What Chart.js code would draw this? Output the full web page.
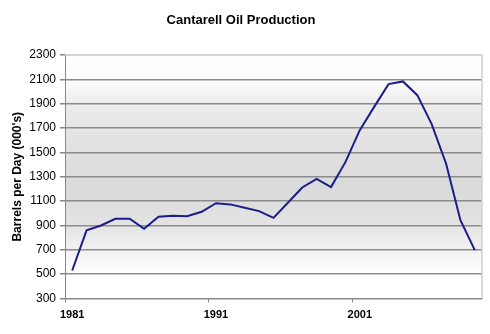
<!DOCTYPE html>
<html>
<head>
<meta charset="utf-8">
<script src="https://cdn.jsdelivr.net/npm/chart.js@4"></script>
<style>
  html, body { margin: 0; padding: 0; background: #fff; }
  #wrap { width: 490px; height: 334px; }
</style>
</head>
<body>
<div id="wrap"><canvas id="myChart" width="490" height="334"></canvas></div>
<script>
// years on the category axis
let years = [
    '1981', '1982', '1983', '1984', '1985', '1986', '1987', '1988', '1989', '1990',
    '1991', '1992', '1993', '1994', '1995', '1996', '1997', '1998', '1999', '2000',
    '2001', '2002', '2003', '2004', '2005', '2006', '2007', '2008', '2009'
];
// barrels per day, thousands
let production = [
    530, 860, 900, 955, 955, 872, 971, 979, 976, 1012,
    1083, 1073, 1045, 1018, 962, 1086, 1212, 1283, 1215, 1420,
    1683, 1874, 2061, 2083, 1970, 1732, 1409, 943, 697
];
let shownYears = ['1981', '1991', '2001'];

let fontName = '"Liberation Sans", Arial, sans-serif';

// gray gradient behind the plot and a light frame on top/right
let plotBackground = {
    id: 'plotBackground',
    beforeDraw(chart) {
        let a = chart.chartArea;
        let c = chart.ctx;
        let g = c.createLinearGradient(0, a.top, 0, a.bottom);
        g.addColorStop(0, '#ffffff');
        g.addColorStop(0.1, '#fdfdfd');
        g.addColorStop(0.2, '#ececec');
        g.addColorStop(0.4, '#e0e0e0');
        g.addColorStop(0.55, '#dadada');
        g.addColorStop(0.7, '#e4e4e4');
        g.addColorStop(0.82, '#f4f4f4');
        g.addColorStop(0.9, '#ffffff');
        g.addColorStop(1, '#ffffff');
        c.save();
        c.fillStyle = g;
        c.fillRect(a.left, a.top, a.right - a.left, a.bottom - a.top);
        c.restore();
    },
    beforeDatasetsDraw(chart) {
        let a = chart.chartArea;
        let c = chart.ctx;
        c.save();
        c.strokeStyle = '#cfcfcf';
        c.lineWidth = 1.5;
        c.beginPath();
        c.moveTo(a.left, a.top);
        c.lineTo(a.right, a.top);
        c.lineTo(a.right, a.bottom);
        c.stroke();
        c.restore();
    }
};

let ctx = document.getElementById('myChart').getContext('2d');

let chart = new Chart(ctx, {
    type: 'line',
    data: {
        labels: years,
        datasets: [{
            label: 'Cantarell',
            data: production,
            borderColor: '#1c1c8c',
            borderWidth: 2,
            pointRadius: 0,
            tension: 0,
            fill: false
        }]
    },
    options: {
        responsive: false,
        animation: false,
        layout: { padding: { left: 0, right: 8, top: 0, bottom: 0 } },
        plugins: {
            legend: { display: false },
            tooltip: { enabled: false },
            title: {
                display: true,
                text: 'Cantarell Oil Production',
                color: '#000',
                font: { family: fontName, size: 13, weight: 'bold' },
                padding: { top: 13, bottom: 26.4 }
            }
        },
        scales: {
            x: {
                offset: true,
                afterFit(scale) { scale.height = 35.5; },
                grid: {
                    offset: true,
                    drawOnChartArea: false,
                    drawTicks: true,
                    tickLength: 4,
                    color: '#888',
                    tickColor(context) {
                        return context.index % 10 === 0 ? '#888' : 'rgba(0,0,0,0)';
                    }
                },
                border: { color: '#888', width: 1 },
                ticks: {
                    autoSkip: false,
                    maxRotation: 0,
                    padding: 6,
                    color: '#000',
                    font: { family: fontName, size: 11, weight: 'bold' },
                    callback(value, index) {
                        let y = years[index];
                        return shownYears.includes(y) ? y : '';
                    }
                }
            },
            y: {
                min: 300,
                max: 2300,
                afterFit(scale) { scale.width = 65; },
                grid: {
                    color(context) {
                        return context.tick && context.tick.value === 2300 ? '#d4d4d4' : '#8c8c8c';
                    },
                    lineWidth: 1.5,
                    tickColor: '#888',
                    tickLength: 5
                },
                border: { color: '#888', width: 1 },
                ticks: {
                    stepSize: 200,
                    padding: 4,
                    color: '#000',
                    font: { family: fontName, size: 12 },
                    callback(value) { return String(value); }
                },
                title: {
                    display: true,
                    text: "Barrels per Day (000's)",
                    color: '#000',
                    font: { family: fontName, size: 12, weight: 'bold' },
                    padding: { top: 10, bottom: 0 }
                }
            }
        }
    },
    plugins: [plotBackground]
});
</script>
</body>
</html>
